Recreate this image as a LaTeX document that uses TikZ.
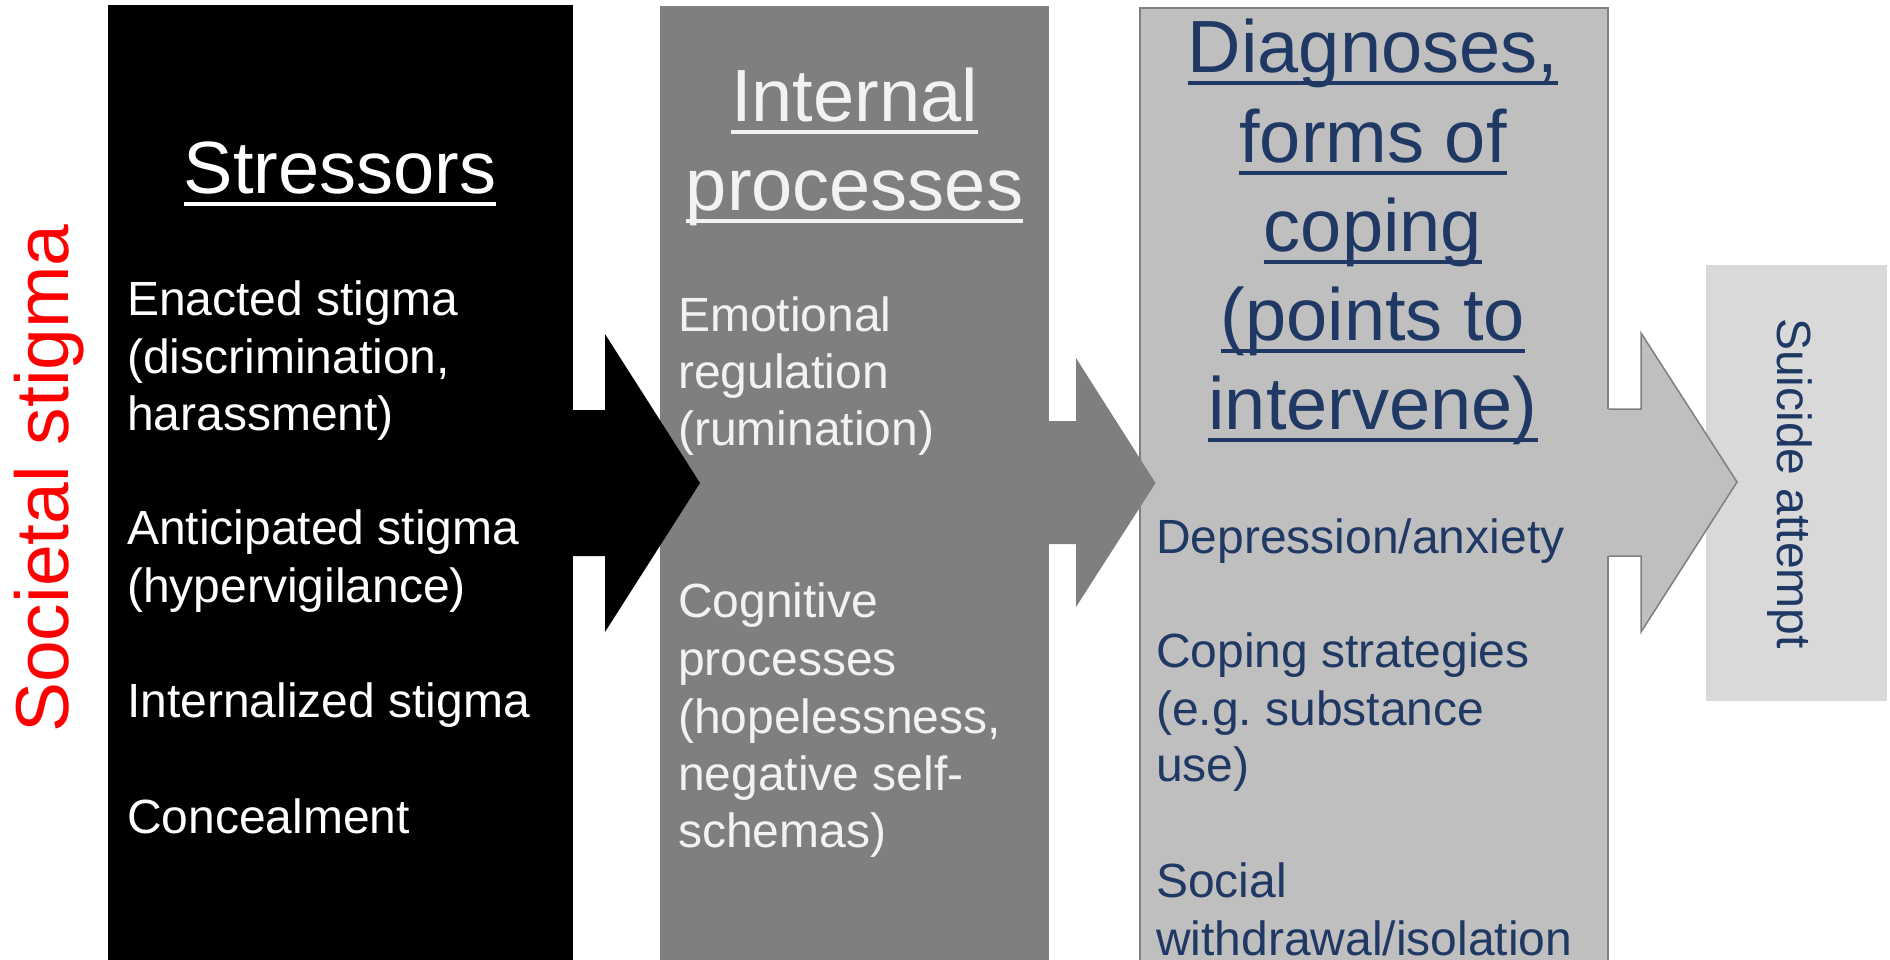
\documentclass[tikz,border=0pt]{standalone}
\usepackage{fontspec}
\setmainfont{Liberation Sans}
\frenchspacing

\definecolor{procgray}{HTML}{7F7F7F}
\definecolor{diaggray}{HTML}{BFBFBF}
\definecolor{outcomegray}{HTML}{D9D9D9}
\definecolor{softwhite}{HTML}{F2F2F2}
\definecolor{textnavy}{HTML}{1F3864}

\tikzstyle{stage}=[rectangle, inner sep=0pt, anchor=north west]
\tikzstyle{heading}=[inner sep=0pt, anchor=base, font=\fontsize{74}{89}\selectfont]
\tikzstyle{item}=[inner sep=0pt, anchor=base west, font=\fontsize{48}{57.5}\selectfont]
\tikzstyle{side-label}=[inner sep=0pt]
\tikzstyle{arrow-outline}=[draw=procgray, line width=1.5pt]

% underline at a fixed depth, crossing the descenders
\newcommand{\headline}[1]{\setbox0=\hbox{#1}\rlap{\rule[-13pt]{\wd0}{4.4pt}}\box0}

\begin{document}
\begin{tikzpicture}[x=1pt, y=-1pt]
    \useasboundingbox (0,0) rectangle (1890,959);
    \clip (0,0) rectangle (1890,959);
    % First we draw the columns
    \node[stage, fill=black, minimum width=464.5, minimum height=975] (stressors) at (108,5) {};
    \node[stage, fill=procgray, minimum width=389, minimum height=975] (internal) at (660,6) {};
    \node[stage, fill=diaggray, draw=procgray, line width=1.5pt,
          minimum width=468, minimum height=975] (diagnoses) at (1139,7) {};
    \node[stage, fill=outcomegray, minimum width=181, minimum height=436] (attempt) at (1706,265) {};
    % Block arrows between the columns
    \fill[black] (stressors.east |- 0,410) -- (605,410) -- (605,334) -- (700,483)
        -- (605,632) -- (605,556) -- (stressors.east |- 0,556) -- cycle;
    \fill[procgray] ([xshift=-1pt]internal.east |- 0,421) -- (1076,421) -- (1076,358)
        -- (1155.5,483) -- (1076,607) -- (1076,544) -- ([xshift=-1pt]internal.east |- 0,544) -- cycle;
    \fill[diaggray] ([xshift=-2pt]diagnoses.east |- 0,409) -- (1641,409) -- (1641,333)
        -- (1737,482) -- (1641,632) -- (1641,556) -- ([xshift=-2pt]diagnoses.east |- 0,556) -- cycle;
    \path[arrow-outline] (diagnoses.east |- 0,409) -- (1641,409) -- (1641,333) -- (1737,482)
        -- (1641,632) -- (1641,556) -- (diagnoses.east |- 0,556);
    % Headings
    \node[heading, text=white] (stressors-title) at (340,193) {\headline{Stressors}};
    \foreach \y/\txt [count=\i] in {121/Internal, 210/processes}
      \node[heading, text=softwhite] (internal-title-\i) at (854.5,\y) {\headline{\txt}};
    \foreach \y/\txt [count=\i] in {72/{Diagnoses,}, 162/forms of, 251/coping,
    	340/(points to, 429/intervene)}
      \node[heading, text=textnavy] (diagnoses-title-\i) at (1373,\y) {\headline{\txt}};
    % Then the items of each column
    \foreach \y/\txt [count=\i] in {315/Enacted stigma, 373/{(discrimination,},
    	430/harassment), 544/Anticipated stigma, 602/(hypervigilance),
    	717/Internalized stigma, 833/Concealment}
      \node[item, text=white] (stressor-\i) at (127,\y) {\txt};
    \foreach \y/\txt [count=\i] in {331/Emotional, 388/regulation, 445/(rumination),
    	617/Cognitive, 675/processes, 733/{(hopelessness,}, 790/negative self-,
    	847/schemas)}
      \node[item, text=softwhite] (process-\i) at (678,\y) {\txt};
    \foreach \y/\txt [count=\i] in {553/{Depression/anxiety}, 667/Coping strategies,
    	725/(e.g. substance, 781/use), 897/Social, 955/{withdrawal/isolation}}
      \node[item, text=textnavy] (diagnosis-\i) at (1156,\y) {\txt};
    % Rotated labels
    \node[side-label, rotate=90, text=red, font=\fontsize{75}{90}\selectfont]
      (societal) at (49.5,478.5) {Societal stigma};
    \node[side-label, rotate=-90, text=textnavy, font=\fontsize{48}{57.5}\selectfont]
      (attempt-label) at (1790,483.5) {Suicide attempt};
\end{tikzpicture}
\end{document}
